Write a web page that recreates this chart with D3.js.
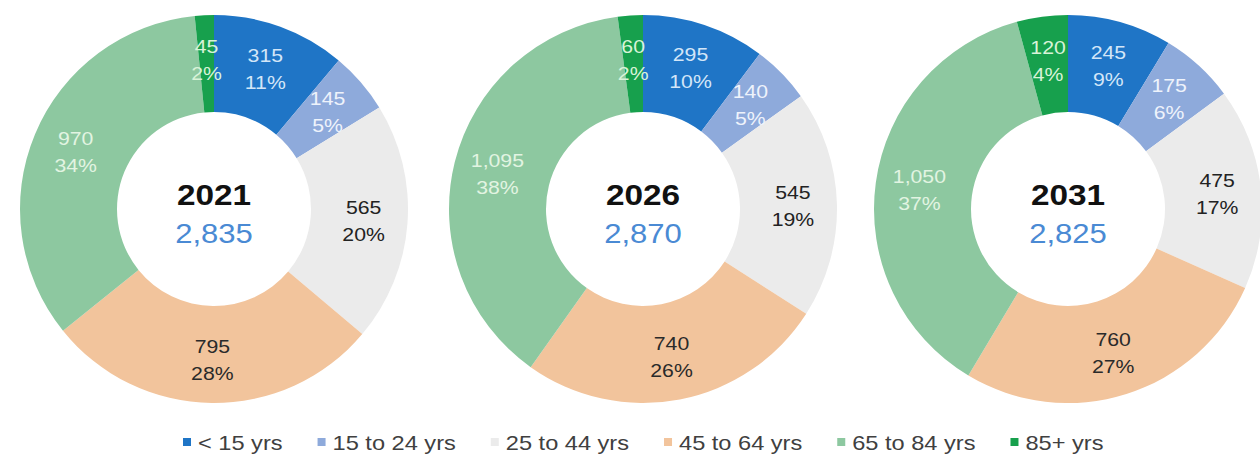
<!DOCTYPE html>
<html>
<head>
<meta charset="utf-8">
<script src="https://cdn.jsdelivr.net/npm/d3@7"></script>
<style>
  body { margin: 0; background: #fff; }
  svg { display: block; font-family: "Liberation Sans", Arial, sans-serif; }
</style>
</head>
<body>
<div id="chart-area"></div>
<script>
// ---- data ----
var groups = ["< 15 yrs", "15 to 24 yrs", "25 to 44 yrs", "45 to 64 yrs", "65 to 84 yrs", "85+ yrs"];
var years = ["2021", "2026", "2031"];
var totals = ["2,835", "2,870", "2,825"];
var values2021 = [315, 145, 565, 795, 970, 45];
var values2026 = [295, 140, 545, 740, 1095, 60];
var values2031 = [245, 175, 475, 760, 1050, 120];
var allValues = [values2021, values2026, values2031];

var colors = ["#1f75c6", "#8eaadb", "#ebebeb", "#f2c49c", "#8dc8a0", "#17a04d"];
var labelColors = ["#d3e6f8", "#eef3fb", "#222222", "#2a2a2a", "#e2f4e2", "#d8f3d8"];

var width = 1260, height = 458;
var centersX = [214, 643, 1068];
var centerY = 209;
var outerR = 194, innerR = 97, labelR = 150;
var stretch = 1.18; // the source picture is a bit wider than tall

var svg = d3.select("#chart-area")
    .append("svg")
    .attr("width", width)
    .attr("height", height);

var color = d3.scaleOrdinal().domain(groups).range(colors);
var textColor = d3.scaleOrdinal().domain(groups).range(labelColors);

var pie = d3.pie()
    .sort(null)
    .value(function(d){ return d.value; });

var arc = d3.arc().innerRadius(innerR).outerRadius(outerR);
var labelArc = d3.arc().innerRadius(labelR).outerRadius(labelR);

var fmt = d3.format(",");
var pct = d3.format(".0%");

years.forEach(function(year, i){
    var data = groups.map(function(g, j){ return { group: g, value: allValues[i][j] }; });
    var sum = d3.sum(data, function(d){ return d.value; });

    var g = svg.append("g")
        .attr("transform", "translate(" + centersX[i] + "," + centerY + ")");

    g.selectAll("path")
        .data(pie(data))
        .enter()
        .append("path")
        .attr("d", arc)
        .attr("fill", function(d){ return color(d.data.group); });

    var labels = g.selectAll("g.lbl")
        .data(pie(data))
        .enter()
        .append("g")
        .attr("class", "lbl")
        .attr("transform", function(d){
            var c = labelArc.centroid(d);
            return "translate(" + c[0] + "," + c[1] + ") scale(" + stretch + ",1)";
        })
        .attr("fill", function(d){ return textColor(d.data.group); })
        .attr("font-size", "18px")
        .attr("text-anchor", "middle");

    labels.append("text")
        .attr("y", -6)
        .text(function(d){ return fmt(d.data.value); });
    labels.append("text")
        .attr("y", 21)
        .text(function(d){ return pct(d.data.value / sum); });

    // centre text
    g.append("text")
        .attr("text-anchor", "middle")
        .attr("y", -4)
        .attr("transform", "scale(1.15,1)")
        .attr("font-size", "29px")
        .attr("font-weight", "bold")
        .attr("fill", "#111")
        .text(year);
    g.append("text")
        .attr("text-anchor", "middle")
        .attr("y", 34)
        .attr("transform", "scale(1.15,1)")
        .attr("font-size", "27px")
        .attr("fill", "#4a8ad4")
        .text(totals[i]);
});

// legend
var legend = svg.append("g")
    .attr("transform", "translate(183, 450)");

var lx = 0;
groups.forEach(function(gname){
    var item = legend.append("g").attr("transform", "translate(" + lx + ",0)");
    item.append("rect")
        .attr("x", 0)
        .attr("y", -12)
        .attr("width", 8)
        .attr("height", 8)
        .attr("fill", color(gname));
    var t = item.append("text")
        .attr("font-size", "20px")
        .attr("fill", "#404040")
        .attr("transform", "translate(15,0) scale(" + stretch + ",1)")
        .text(gname);
    lx += 15 + t.node().getComputedTextLength() * stretch + 35;
});
</script>
</body>
</html>
